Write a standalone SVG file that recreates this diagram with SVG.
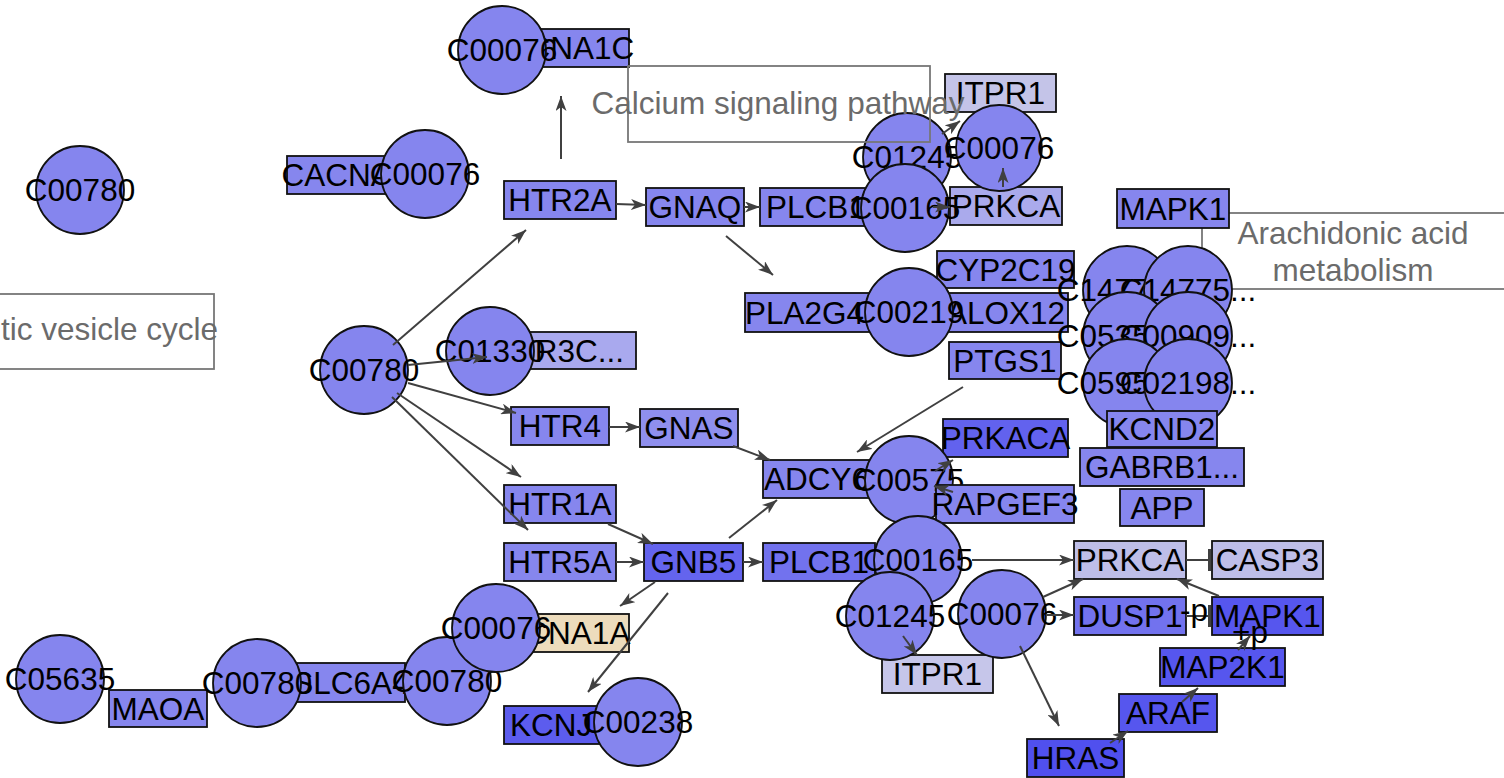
<svg xmlns="http://www.w3.org/2000/svg" width="1504" height="778" viewBox="0 0 1504 778">
<defs>
<style>
.bx{stroke:#111;stroke-width:1.8;fill:#8686ee}
.ci{stroke:#111;stroke-width:1.8;fill:#8585ee}
.pw{stroke:#777;stroke-width:1.8;fill:#fff}
.pn{stroke:#777;stroke-width:1.8;fill:none}
.t{font-family:"Liberation Sans",Arial,sans-serif;font-size:31.5px;text-anchor:middle;fill:#000}
.g{font-family:"Liberation Sans",Arial,sans-serif;font-size:31.5px;text-anchor:middle;fill:#6b6b6b}
.e{stroke:#404040;stroke-width:2;fill:none;marker-end:url(#arr)}
.i{stroke:#404040;stroke-width:2;fill:none;marker-end:url(#bar)}
</style>
<marker id="arr" viewBox="0 0 15 11" refX="15" refY="5.5" markerWidth="15" markerHeight="11" markerUnits="userSpaceOnUse" orient="auto"><path d="M0,0 L15,5.5 L0,11 L4,5.5 z" fill="#404040"/></marker>
<marker id="bar" viewBox="0 0 4 22" refX="2" refY="11" markerWidth="4" markerHeight="22" markerUnits="userSpaceOnUse" orient="auto"><rect x="0" y="0" width="3" height="22" fill="#404040"/></marker>
</defs>
<rect width="1504" height="778" fill="#fff"/>

<g id="pathway-synaptic"><rect class="pw" x="-87" y="294" width="301" height="75"/><text class="g" x="218" y="340" style="text-anchor:end">tic vesicle cycle</text></g>

<g id="n-CACNA1C"><rect class="bx" x="489" y="29" width="140" height="38"/><text class="t" x="559" y="59">CACNA1C</text></g>
<g id="n-ITPR1-a"><rect class="bx" x="945" y="74" width="111" height="38" style="fill:#c4c4e8"/><text class="t" x="1000.5" y="104">ITPR1</text></g>
<g id="n-CACNA1A-a"><rect class="bx" x="287" y="156" width="138" height="38"/><text class="t" x="356" y="186">CACNA1A</text></g>
<g id="n-HTR2A"><rect class="bx" x="504" y="181" width="112" height="38"/><text class="t" x="560" y="211">HTR2A</text></g>
<g id="n-GNAQ"><rect class="bx" x="646" y="188" width="98" height="38"/><text class="t" x="695" y="218">GNAQ</text></g>
<g id="n-PLCB1-a"><rect class="bx" x="760" y="188" width="112" height="38"/><text class="t" x="816" y="218">PLCB1</text></g>
<g id="n-PRKCA-a"><rect class="bx" x="950" y="187" width="112" height="38" style="fill:#aaaaec"/><text class="t" x="1006" y="217">PRKCA</text></g>
<g id="n-CYP2C19"><rect class="bx" x="937" y="251" width="137" height="37"/><text class="t" x="1005.5" y="280.5">CYP2C19</text></g>
<g id="n-PLA2G4B"><rect class="bx" x="745" y="293" width="140" height="39"/><text class="t" x="815" y="323.5">PLA2G4B</text></g>
<g id="n-ALOX12"><rect class="bx" x="943" y="293" width="125" height="39"/><text class="t" x="1005.5" y="323.5">ALOX12</text></g>
<g id="n-PTGS1"><rect class="bx" x="949" y="342" width="112" height="37"/><text class="t" x="1005" y="371.5">PTGS1</text></g>
<g id="n-HTR3C"><rect class="bx" x="481" y="332" width="155" height="37" style="fill:#a9a9ee"/><text class="t" x="558.5" y="361.5">HTR3C...</text></g>
<g id="n-HTR4"><rect class="bx" x="511" y="407" width="98" height="38"/><text class="t" x="560" y="437">HTR4</text></g>
<g id="n-GNAS"><rect class="bx" x="640" y="409" width="98" height="38" style="fill:#8f8fee"/><text class="t" x="689" y="439">GNAS</text></g>
<g id="n-PRKACA"><rect class="bx" x="943" y="419" width="125" height="38" style="fill:#6262ee"/><text class="t" x="1005.5" y="449">PRKACA</text></g>
<g id="n-ADCY6"><rect class="bx" x="763" y="460" width="107" height="38"/><text class="t" x="816.5" y="490">ADCY6</text></g>
<g id="n-HTR1A"><rect class="bx" x="504" y="485" width="112" height="38"/><text class="t" x="560" y="515">HTR1A</text></g>
<g id="n-HTR5A"><rect class="bx" x="504" y="543" width="112" height="38"/><text class="t" x="560" y="573">HTR5A</text></g>
<g id="n-GNB5"><rect class="bx" x="644" y="543" width="99" height="38" style="fill:#6464ee"/><text class="t" x="693.5" y="573">GNB5</text></g>
<g id="n-PLCB1-b"><rect class="bx" x="763" y="543" width="112" height="38" style="fill:#7272ee"/><text class="t" x="819" y="573">PLCB1</text></g>
<g id="n-PRKCA-b"><rect class="bx" x="1074" y="541" width="112" height="38" style="fill:#bebee8"/><text class="t" x="1130" y="571">PRKCA</text></g>
<g id="n-CASP3"><rect class="bx" x="1212" y="541" width="111" height="38" style="fill:#bebee8"/><text class="t" x="1267.5" y="571">CASP3</text></g>
<g id="n-DUSP1"><rect class="bx" x="1074" y="597" width="112" height="38" style="fill:#7272ee"/><text class="t" x="1130" y="627">DUSP1</text></g>
<g id="n-MAPK1-b"><rect class="bx" x="1212" y="597" width="111" height="38" style="fill:#5656ee"/><text class="t" x="1267.5" y="627">MAPK1</text></g>
<g id="n-CACNA1A-b"><rect class="bx" x="483" y="614" width="146" height="38" style="fill:#eddcbc"/><text class="t" x="556" y="644">CACNA1A</text></g>
<g id="n-MAP2K1"><rect class="bx" x="1160" y="648" width="125" height="38" style="fill:#5656ee"/><text class="t" x="1222.5" y="678">MAP2K1</text></g>
<g id="n-ITPR1-b"><rect class="bx" x="882" y="655" width="111" height="38" style="fill:#c6c6ea"/><text class="t" x="937.5" y="685">ITPR1</text></g>
<g id="n-SLC6A4"><rect class="bx" x="297" y="663" width="108" height="39"/><text class="t" x="351" y="693.5">SLC6A4</text></g>
<g id="n-MAOA"><rect class="bx" x="109" y="690" width="98" height="37"/><text class="t" x="158" y="719.5">MAOA</text></g>
<g id="n-ARAF"><rect class="bx" x="1119" y="694" width="98" height="38" style="fill:#5656ee"/><text class="t" x="1168" y="724">ARAF</text></g>
<g id="n-KCNJ3"><rect class="bx" x="504" y="706" width="112" height="38" style="fill:#5c5cee"/><text class="t" x="560" y="736">KCNJ3</text></g>
<g id="n-HRAS"><rect class="bx" x="1027" y="739" width="97" height="38" style="fill:#5050ee"/><text class="t" x="1075.5" y="769">HRAS</text></g>

<g id="c-C00076-a"><circle class="ci" cx="502" cy="50" r="44"/><text class="t" x="502" y="61">C00076</text></g>
<g id="c-C01245-a"><circle class="ci" cx="907" cy="157" r="44"/><text class="t" x="907" y="168">C01245</text></g>
<g id="c-C00165-a"><circle class="ci" cx="905" cy="208" r="44"/><text class="t" x="905" y="219">C00165</text></g>
<g id="c-C00076-b"><circle class="ci" cx="999" cy="148" r="43"/><text class="t" x="999" y="159">C00076</text></g>
<g id="c-C00780-a"><circle class="ci" cx="80" cy="190" r="44"/><text class="t" x="80" y="201">C00780</text></g>
<g id="c-C00076-c"><circle class="ci" cx="425" cy="174" r="44"/><text class="t" x="425" y="185">C00076</text></g>
<g id="c-C00780-b"><circle class="ci" cx="364" cy="370" r="44"/><text class="t" x="364" y="381">C00780</text></g>
<g id="c-C01330"><circle class="ci" cx="490" cy="351" r="44"/><text class="t" x="490" y="362">C01330</text></g>
<g id="c-C00219"><circle class="ci" cx="909" cy="312" r="44"/><text class="t" x="909" y="323">C00219</text></g>

<g id="pathway-arachidonic"><rect class="pw" x="1202" y="213" width="304" height="76"/><text class="g" x="1353" y="244">Arachidonic acid</text><text class="g" x="1353" y="281">metabolism</text></g>
<g id="c-C14771"><circle class="ci" cx="1127" cy="290" r="44"/><text class="t" x="1112" y="301">C14771</text></g>
<g id="c-C14775"><circle class="ci" cx="1188" cy="290" r="44"/><text class="t" x="1188" y="301">C14775...</text></g>
<g id="c-C05356"><circle class="ci" cx="1127" cy="336" r="44"/><text class="t" x="1112" y="347">C05356</text></g>
<g id="c-C00909"><circle class="ci" cx="1188" cy="336" r="44"/><text class="t" x="1188" y="347">C00909...</text></g>
<g id="c-C05956"><circle class="ci" cx="1127" cy="383" r="44"/><text class="t" x="1112" y="394">C05956</text></g>
<g id="c-C02198"><circle class="ci" cx="1188" cy="383" r="44"/><text class="t" x="1188" y="394">C02198...</text></g>
<g id="n-MAPK1-a"><rect class="bx" x="1117" y="189" width="112" height="39"/><text class="t" x="1173" y="219.5">MAPK1</text></g>
<g id="n-KCND2"><rect class="bx" x="1107" y="411" width="110" height="36"/><text class="t" x="1162" y="440">KCND2</text></g>
<g id="n-GABRB1"><rect class="bx" x="1080" y="448" width="164" height="38"/><text class="t" x="1162" y="478">GABRB1...</text></g>
<g id="n-APP"><rect class="bx" x="1120" y="489" width="84" height="37"/><text class="t" x="1162" y="518.5">APP</text></g>

<g id="c-C00575"><circle class="ci" cx="909" cy="480" r="44"/><text class="t" x="909" y="491">C00575</text></g>
<g id="n-RAPGEF3"><rect class="bx" x="936" y="485" width="138" height="38"/><text class="t" x="1005" y="515">RAPGEF3</text></g>
<g id="c-C00165-b"><circle class="ci" cx="918" cy="560" r="44"/><text class="t" x="918" y="571">C00165</text></g>
<g id="c-C01245-b"><circle class="ci" cx="890" cy="616" r="44"/><text class="t" x="890" y="627">C01245</text></g>
<g id="c-C00076-d"><circle class="ci" cx="1002" cy="614" r="44"/><text class="t" x="1002" y="625">C00076</text></g>
<g id="c-C00780-c"><circle class="ci" cx="447" cy="681" r="44"/><text class="t" x="447" y="692">C00780</text></g>
<g id="c-C00076-e"><circle class="ci" cx="496" cy="628" r="44"/><text class="t" x="496" y="639">C00076</text></g>
<g id="c-C00238"><circle class="ci" cx="638" cy="722" r="44"/><text class="t" x="638" y="733">C00238</text></g>
<g id="c-C05635"><circle class="ci" cx="60" cy="679" r="44"/><text class="t" x="60" y="690">C05635</text></g>
<g id="c-C00780-d"><circle class="ci" cx="257" cy="683" r="44"/><text class="t" x="257" y="694">C00780</text></g>

<g id="pathway-calcium"><rect class="pn" x="628" y="66" width="302" height="76"/><text class="g" x="778" y="114">Calcium signaling pathway</text></g>

<g id="connectors">
<line class="e" x1="561" y1="159" x2="561" y2="96"/>
<line class="e" x1="616" y1="204" x2="646" y2="205"/>
<line class="e" x1="744" y1="207" x2="760" y2="207"/>
<line class="e" x1="933" y1="207" x2="950" y2="207"/>
<line class="e" x1="1003" y1="187" x2="1003" y2="168"/>
<line class="e" x1="942" y1="134" x2="960" y2="121"/>
<line class="e" x1="726" y1="236" x2="773" y2="275"/>
<line class="e" x1="393" y1="345" x2="526" y2="230"/>
<line class="e" x1="408" y1="365" x2="487" y2="357"/>
<line class="e" x1="408" y1="383" x2="516" y2="413"/>
<line class="e" x1="397" y1="393" x2="521" y2="477"/>
<line class="e" x1="392" y1="397" x2="528" y2="530"/>
<line class="e" x1="609" y1="427" x2="640" y2="427"/>
<line class="e" x1="733" y1="446" x2="770" y2="460"/>
<line class="e" x1="608" y1="524" x2="653" y2="544"/>
<line class="e" x1="616" y1="562" x2="644" y2="562"/>
<line class="e" x1="743" y1="562" x2="763" y2="562"/>
<line class="e" x1="729" y1="538" x2="777" y2="500"/>
<line class="e" x1="963" y1="387" x2="857" y2="452"/>
<line class="e" x1="935" y1="471" x2="953" y2="460"/>
<line class="e" x1="953" y1="492" x2="934" y2="486"/>
<line class="e" x1="972" y1="560" x2="1074" y2="560"/>
<line class="i" x1="1186" y1="560" x2="1210" y2="560"/>
<line class="e" x1="1043" y1="597" x2="1083" y2="579"/>
<line class="e" x1="1046" y1="615" x2="1074" y2="615"/>
<line class="i" x1="1186" y1="616" x2="1210" y2="616"/>
<line class="e" x1="1219" y1="596" x2="1177" y2="579"/>
<line class="e" x1="1238" y1="650" x2="1250" y2="636"/>
<line class="e" x1="1182" y1="702" x2="1198" y2="688"/>
<line class="e" x1="1110" y1="743" x2="1128" y2="731"/>
<line class="e" x1="1020" y1="646" x2="1059" y2="726"/>
<line class="e" x1="903" y1="636" x2="917" y2="655"/>
<line class="e" x1="655" y1="582" x2="620" y2="606"/>
<line class="e" x1="668" y1="593" x2="588" y2="692"/>
</g>
<g id="edge-labels">
<text class="t" x="1194" y="621">-p</text>
<text class="t" x="1250" y="643">+p</text>
</g>
</svg>
